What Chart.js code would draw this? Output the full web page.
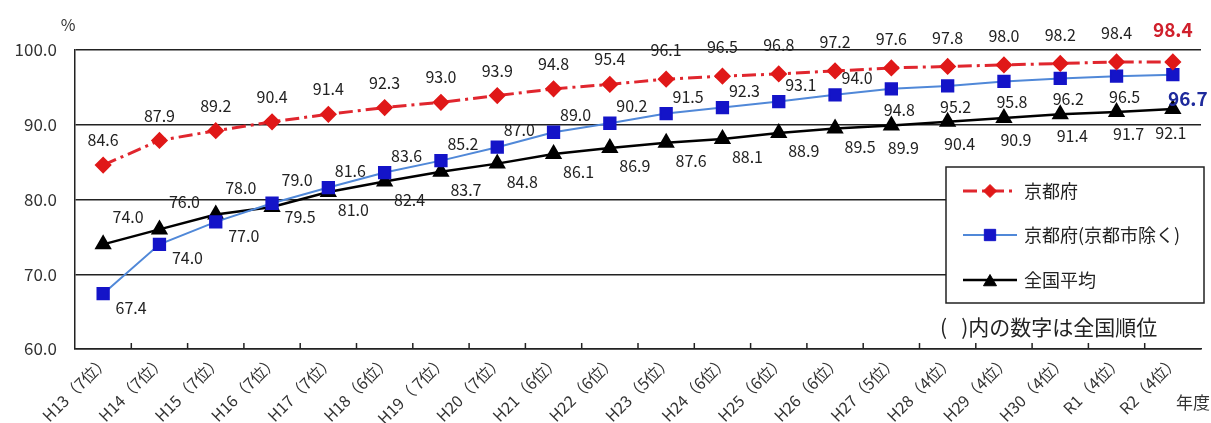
<!DOCTYPE html>
<html>
<head>
<meta charset="utf-8">
<script src="https://cdn.jsdelivr.net/npm/chart.js@4.4.1/dist/chart.umd.min.js"></script>
<style>
  html, body { margin: 0; padding: 0; background: #fff; }
  #wrap { width: 1211px; height: 423px; }
</style>
</head>
<body>
<div id="wrap"><canvas id="rateChart" width="1211" height="423"></canvas></div>
<script>
const years = ['H13（7位）', 'H14（7位）', 'H15（7位）', 'H16（7位）', 'H17（7位）', 'H18（6位）', 'H19（ 7位）',
    'H20（7位）', 'H21（6位）', 'H22（6位）', 'H23（5位）', 'H24（6位）', 'H25（6位）', 'H26（6位）',
    'H27（5位）', 'H28（4位）', 'H29（4位）', 'H30（4位）', 'R1（4位）', 'R2（4位）'];

const kyotoFu = [84.6, 87.9, 89.2, 90.4, 91.4, 92.3, 93.0, 93.9, 94.8, 95.4, 96.1, 96.5, 96.8, 97.2, 97.6, 97.8, 98.0, 98.2, 98.4, 98.4];
const kyotoExCity = [67.4, 74.0, 77.0, 79.5, 81.6, 83.6, 85.2, 87.0, 89.0, 90.2, 91.5, 92.3, 93.1, 94.0, 94.8, 95.2, 95.8, 96.2, 96.5, 96.7];
const national = [74.0, 76.0, 78.0, 79.0, 81.0, 82.4, 83.7, 84.8, 86.1, 86.9, 87.6, 88.1, 88.9, 89.5, 89.9, 90.4, 90.9, 91.4, 91.7, 92.1];

const yTicks = [60, 70, 80, 90, 100];

const FONT = '"Noto Sans CJK JP", "Noto Sans", sans-serif';

// value labels, extra texts, inner x ticks and the boxed legend
const decorPlugin = {
    id: 'decor',
    afterDatasetsDraw(chart) {
        const ctx = chart.ctx;
        const n = years.length;
        ctx.save();

        // small tick marks pointing up from the x axis
        const xs = chart.scales.x;
        const bottom = chart.chartArea.bottom;
        ctx.strokeStyle = '#222';
        ctx.lineWidth = 1.5;
        for (let i = 0; i < n - 1; i++) {
            const bx = (xs.getPixelForValue(i) + xs.getPixelForValue(i + 1)) / 2;
            ctx.beginPath();
            ctx.moveTo(bx, bottom);
            ctx.lineTo(bx, bottom - 6);
            ctx.stroke();
        }

        // data labels
        ctx.textAlign = 'center';
        ctx.textBaseline = 'middle';
        chart.data.datasets.forEach((ds, di) => {
            const meta = chart.getDatasetMeta(di);
            meta.data.forEach((pt, i) => {
                let dx = 0, dy = 0;
                let font = '16px ' + FONT;
                let color = '#222';
                const last = i === n - 1;
                if (di === 0) {
                    dy = i < 10 ? -25 : -29;
                    if (last) { font = 'bold 19px ' + FONT; color = '#d0202c'; dy = -32; }
                } else if (di === 1) {
                    if (i < 4) { dx = 28; dy = 14; }
                    else if (i < 14) { dx = 22; dy = -17; }
                    else { dx = 8; dy = 21; }
                    if (last) { font = 'bold 19px ' + FONT; color = '#1e2a9c'; dx = 15; dy = 24; }
                } else {
                    if (i < 4) { dx = 25; dy = -27; }
                    else if (i < 14) { dx = 25; dy = 18; }
                    else { dx = 12; dy = 22; }
                    if (last) { dx = -2; dy = 24; }
                }
                ctx.font = font;
                ctx.fillStyle = color;
                ctx.fillText(ds.data[i].toFixed(1), pt.x + dx, pt.y + dy);
            });
        });

        // unit texts
        ctx.fillStyle = '#333';
        ctx.font = '16px ' + FONT;
        ctx.fillText('%', 68, 25);
        ctx.font = '17px ' + FONT;
        ctx.fillText('年度', 1193, 403);

        // legend box
        ctx.fillStyle = '#fff';
        ctx.fillRect(946, 167, 258, 136);
        ctx.strokeStyle = '#222';
        ctx.lineWidth = 1.5;
        ctx.strokeRect(946, 167, 258, 136);

        const rows = [191, 235, 280];
        chart.data.datasets.forEach((ds, di) => {
            const y = rows[di];
            ctx.save();
            ctx.strokeStyle = ds.borderColor;
            ctx.lineWidth = ds.borderWidth;
            ctx.setLineDash(ds.borderDash || []);
            ctx.beginPath();
            ctx.moveTo(963, y);
            ctx.lineTo(1017, y);
            ctx.stroke();
            ctx.setLineDash([]);
            ctx.fillStyle = ds.pointBackgroundColor;
            ctx.strokeStyle = ds.pointBorderColor;
            ctx.lineWidth = 1;
            Chart.helpers.drawPoint(ctx, {
                pointStyle: ds.pointStyle,
                radius: ds.pointRadius,
                borderWidth: 1,
                rotation: 0
            }, 990, ds.pointStyle === 'triangle' ? y + 2 : y);
            ctx.restore();
            ctx.fillStyle = '#222';
            ctx.font = '18px ' + FONT;
            ctx.textAlign = 'left';
            ctx.fillText(ds.label, 1024, y);
        });

        ctx.font = '21px ' + FONT;
        ctx.fillStyle = '#222';
        ctx.textAlign = 'left';
        ctx.fillText('(   )内の数字は全国順位', 940, 327);

        ctx.restore();
    }
};

const ctx = document.getElementById('rateChart').getContext('2d');

new Chart(ctx, {
    type: 'line',
    data: {
        labels: years,
        datasets: [
            {
                label: '京都府',
                data: kyotoFu,
                borderColor: '#e0262e',
                borderWidth: 3,
                borderDash: [14, 5, 3, 5],
                pointStyle: 'rectRot',
                pointRadius: 6.5,
                pointBackgroundColor: '#e01818',
                pointBorderColor: '#e01818',
                tension: 0
            },
            {
                label: '京都府(京都市除く)',
                data: kyotoExCity,
                borderColor: '#5088d8',
                borderWidth: 2,
                pointStyle: 'rect',
                pointRadius: 8,
                pointBackgroundColor: '#1414c8',
                pointBorderColor: '#1414c8',
                tension: 0
            },
            {
                label: '全国平均',
                data: national,
                borderColor: '#000',
                borderWidth: 2.5,
                pointStyle: 'triangle',
                pointRadius: 7.5,
                pointBackgroundColor: '#000',
                pointBorderColor: '#000',
                tension: 0
            }
        ]
    },
    options: {
        responsive: false,
        animation: false,
        layout: { padding: { top: 50, right: 3, bottom: 0, left: 0 } },
        plugins: {
            legend: { display: false },
            tooltip: { enabled: false }
        },
        scales: {
            x: {
                offset: true,
                grid: { display: false, drawTicks: false },
                border: { display: true, color: '#222', width: 1.5 },
                ticks: {
                    autoSkip: false,
                    minRotation: 45,
                    maxRotation: 45,
                    padding: 2,
                    labelOffset: 3,
                    color: '#333',
                    font: { family: FONT, size: 16 }
                },
                afterFit(scale) { scale.height = 74; }
            },
            y: {
                min: 60,
                max: 100,
                afterBuildTicks(scale) { scale.ticks = yTicks.map(v => ({ value: v })); },
                grid: { color: '#222', lineWidth: 1.5, drawTicks: false },
                border: { display: true, color: '#222', width: 1.5 },
                ticks: {
                    padding: 18,
                    color: '#333',
                    font: { family: FONT, size: 17 },
                    callback: v => v.toFixed(1)
                },
                afterFit(scale) { scale.width = 75; }
            }
        }
    },
    plugins: [decorPlugin]
});
</script>
</body>
</html>
